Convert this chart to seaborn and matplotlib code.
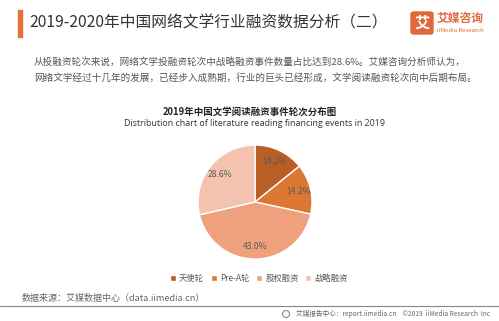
import matplotlib
matplotlib.use("Agg")
import matplotlib.pyplot as plt
from matplotlib.patches import Rectangle, FancyBboxPatch, Ellipse
import seaborn as sns

categories = ["天使轮", "Pre-A轮", "股权融资", "战略融资"]
shares = [14.2, 14.2, 43.0, 28.6]
colors = ["#B95E25", "#DC7733", "#EFA07C", "#F3C3AF"]

title = "2019-2020年中国网络文学行业融资数据分析（二）"
body1 = "从投融资轮次来说，网络文学投融资轮次中战略融资事件数量占比达到28.6%。艾媒咨询分析师认为，"
body2 = "网络文学经过十几年的发展，已经步入成熟期，行业的巨头已经形成，文学阅读融资轮次向中后期布局。"
chart_title = "2019年中国文学阅读融资事件轮次分布图"
chart_sub = "Distribution chart of literature reading financing events in 2019"
source = "数据来源：艾媒数据中心（data.iimedia.cn）"
footer = "艾媒报告中心：report.iimedia.cn    ©2019  iiMedia Research  Inc"

sns.set_theme(style="white")
plt.rcParams["font.family"] = ["Noto Sans CJK SC", "DejaVu Sans"]

W, H = 499, 321
fig = plt.figure(figsize=(W / 100, H / 100), dpi=100)
fig.patch.set_facecolor("white")

def fx(x):
    return x / W

def fy(y):
    return 1 - y / H

# header
fig.patches.append(Rectangle((fx(18), fy(37)), 4 / W, 27 / H, transform=fig.transFigure,
                             color="#E8703A", zorder=5))
fig.text(fx(29), fy(23), title, fontsize=11.3, color="#333333", va="center", ha="left")

# logo
fig.patches.append(FancyBboxPatch((fx(411), fy(34)), 22 / W, 22 / H, transform=fig.transFigure,
                                  boxstyle="round,pad=0,rounding_size=0.006",
                                  color="#E0683A", zorder=5))
fig.text(fx(422), fy(23), "艾", fontsize=11, color="white", fontweight="bold",
         ha="center", va="center", zorder=6)
fig.text(fx(437), fy(18), "艾媒咨询", fontsize=8.5, color="#E0683A", fontweight="bold",
         ha="left", va="center")
fig.text(fx(437), fy(30), "iiMedia Research", fontsize=4.3, color="#E0683A",
         ha="left", va="center")

# body text
fig.text(fx(34), fy(62), body1, fontsize=6.9, color="#555555", ha="left", va="center")
fig.text(fx(34), fy(78), body2, fontsize=6.9, color="#555555", ha="left", va="center")

# chart titles
fig.text(fx(250), fy(112), chart_title, fontsize=6.8, color="#222222", fontweight="bold",
         ha="center", va="center")
fig.text(fx(255), fy(124), chart_sub, fontsize=6.4, color="#333333",
         ha="center", va="center", family=["Open Sans", "DejaVu Sans"])

# pie
cx, cy, r = 255, 202, 57
box = 130
ax = fig.add_axes([fx(cx - box / 2), fy(cy + box / 2), box / W, box / H])
wedges, texts, autotexts = ax.pie(
    shares, colors=colors, startangle=90, counterclock=False,
    radius=r / (box / 2), autopct="%.1f%%", pctdistance=0.78,
    wedgeprops=dict(edgecolor="white", linewidth=1.0),
    textprops=dict(fontsize=6.2, color="#595959"),
)
ax.set_xlim(-1, 1)
ax.set_ylim(-1, 1)
ax.set_aspect("equal")
ax.axis("off")

# legend
leg = fig.legend(wedges, categories, loc="center", bbox_to_anchor=(fx(259), fy(278)),
                 ncol=4, frameon=False, fontsize=6, handlelength=0.7, handleheight=0.7,
                 handletextpad=0.4, columnspacing=0.8, labelcolor="#595959")

# source and footer
fig.text(fx(22), fy(298), source, fontsize=6.5, color="#666666", ha="left", va="center")
fig.add_artist(plt.Line2D([0, 1], [fy(306), fy(306)], transform=fig.transFigure,
                          color="#888888", linewidth=0.8))
fig.text(fx(490), fy(314), footer, fontsize=4.8, color="#666666", ha="right", va="center")
fig.patches.append(Ellipse((fx(286), fy(314)), 7 / W, 7 / H, transform=fig.transFigure,
                           edgecolor="#888888", fill=False, linewidth=0.8))

fig.savefig("out.png", dpi=100, facecolor="white")
